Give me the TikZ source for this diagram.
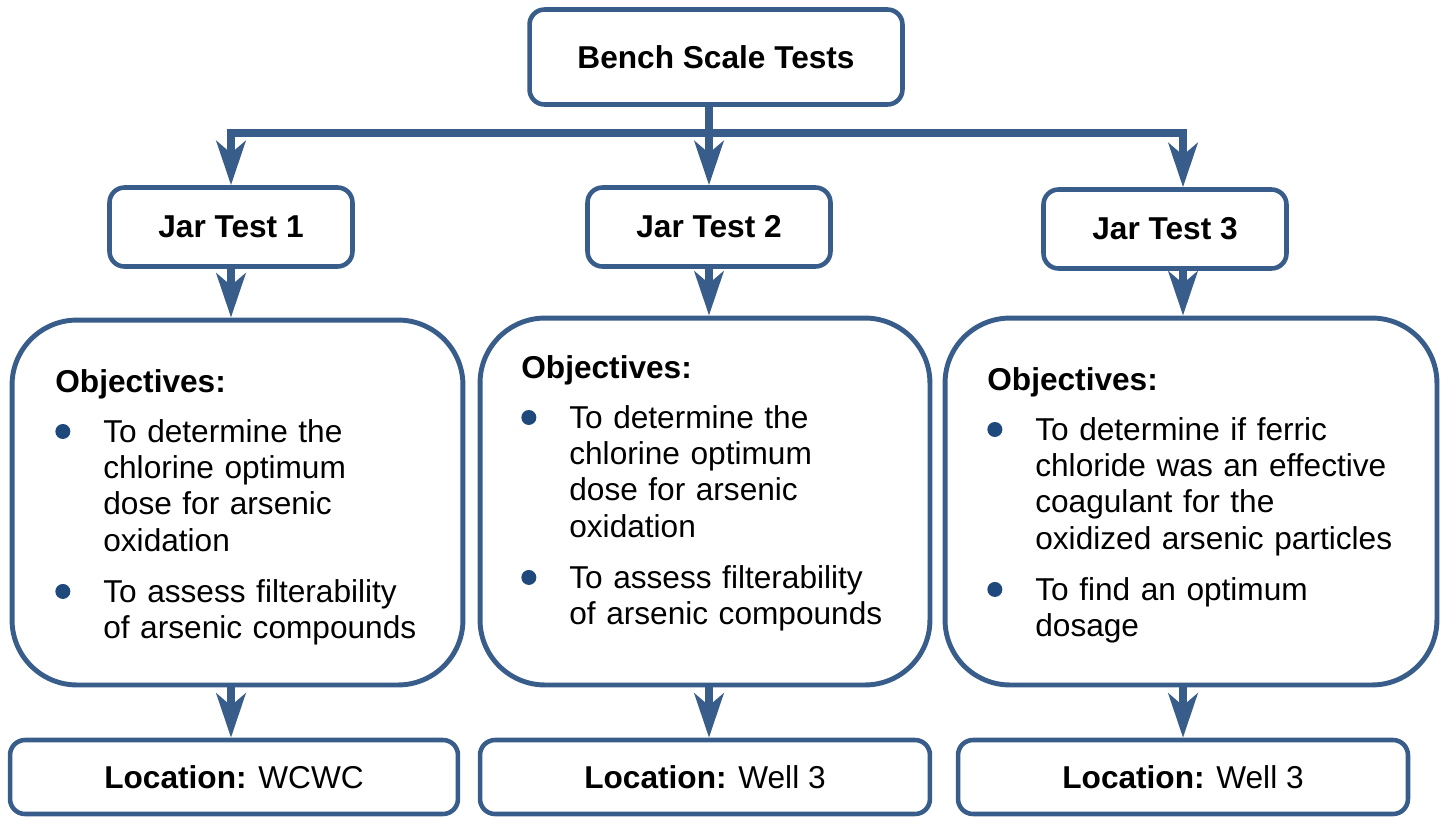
\documentclass[tikz,border=0pt]{standalone}
\usepackage{fontspec}
\setmainfont{Liberation Sans}
\usepackage{enumitem}
\usetikzlibrary{arrows.meta}
\definecolor{linkblue}{RGB}{56,93,138}
\definecolor{dotblue}{RGB}{31,73,125}
\setlist[itemize]{label={\raisebox{0.1em}{\tikz\fill[dotblue] (0,0) circle (0.15cm);}},
  align=left, leftmargin=0.96cm, labelwidth=0.8cm, labelsep=0.16cm,
  topsep=0.27cm, itemsep=0.29cm, parsep=0pt, partopsep=0pt}

\begin{document}
\begin{tikzpicture}[x=0.02cm, y=-0.02cm,
    every node/.style={font=\fontsize{18}{20.7}\selectfont},
    box/.style={draw=linkblue, line width=2.6pt, rounded corners=0.3cm, fill=white},
    bigbox/.style={draw=linkblue, line width=2.8pt, rounded corners=1.3cm, fill=white},
    objtext/.style={anchor=north west, inner sep=0pt, text width=8.5cm, align=left},
    link/.style={draw=linkblue, line width=4.5pt, -{Stealth[length=0.88cm, width=0.58cm, inset=0.24cm]}},
    busbar/.style={draw=linkblue, line width=4.5pt, line cap=rect}]
    \useasboundingbox (0,0) rectangle (1448,816);

    % top box and jar tests
    \node[box, minimum width=7.46cm, minimum height=1.9cm] (bench) at (716,57) {\textbf{Bench Scale Tests}};
    \node[box, minimum width=4.86cm, minimum height=1.58cm] (jar1) at (231,227) {\textbf{Jar Test 1}};
    \node[box, minimum width=4.86cm, minimum height=1.58cm] (jar2) at (709,227) {\textbf{Jar Test 2}};
    \node[box, minimum width=4.86cm, minimum height=1.58cm] (jar3) at (1165,229) {\textbf{Jar Test 3}};

    % objectives
    \node[bigbox, minimum width=9.02cm, minimum height=7.3cm] (obj1) at (237.5,502.5) {};
    \node[bigbox, minimum width=9.0cm, minimum height=7.34cm] (obj2) at (705,501.5) {};
    \node[bigbox, minimum width=9.84cm, minimum height=7.34cm] (obj3) at (1191,501.5) {};

    \node[objtext] (obj1text) at (55,369) {\textbf{Objectives:}
      \begin{itemize}
        \item To determine the\\chlorine optimum\\dose for arsenic\\oxidation
        \item To assess filterability\\of arsenic compounds
      \end{itemize}};
    \node[objtext] (obj2text) at (521,355) {\textbf{Objectives:}
      \begin{itemize}
        \item To determine the\\chlorine optimum\\dose for arsenic\\oxidation
        \item To assess filterability\\of arsenic compounds
      \end{itemize}};
    \node[objtext] (obj3text) at (987,367) {\textbf{Objectives:}
      \begin{itemize}
        \item To determine if ferric\\chloride was an effective\\coagulant for the\\oxidized arsenic particles
        \item To find an optimum\\dosage
      \end{itemize}};

    % locations
    \node[box, minimum width=8.96cm, minimum height=1.48cm] (loc1) at (234,777) {\textbf{Location:} WCWC};
    \node[box, minimum width=9.0cm, minimum height=1.48cm] (loc2) at (705,777) {\textbf{Location:} Well 3};
    \node[box, minimum width=9.0cm, minimum height=1.48cm] (loc3) at (1183,777) {\textbf{Location:} Well 3};

    % connectors
    \coordinate (split) at (709,133);
    \draw[busbar] (split -| jar1.north) -- (split -| loc3.north);
    \draw[link] (bench.south -| jar2.north) -- (jar2.north);
    \draw[link] (split -| jar1.north) -- (jar1.north);
    \draw[link] (split -| loc3.north) -- (loc3.north |- jar3.north);

    \draw[link] (jar1.south) -- (jar1.south |- obj1.north);
    \draw[link] (jar2.south) -- (jar2.south |- obj2.north);
    \draw[link] (loc3.north |- jar3.south) -- (loc3.north |- obj3.north);

    \draw[link] (jar1.south |- obj1.south) -- (jar1.south |- loc1.north);
    \draw[link] (jar2.south |- obj2.south) -- (jar2.south |- loc2.north);
    \draw[link] (loc3.north |- obj3.south) -- (loc3.north);
\end{tikzpicture}
\end{document}
